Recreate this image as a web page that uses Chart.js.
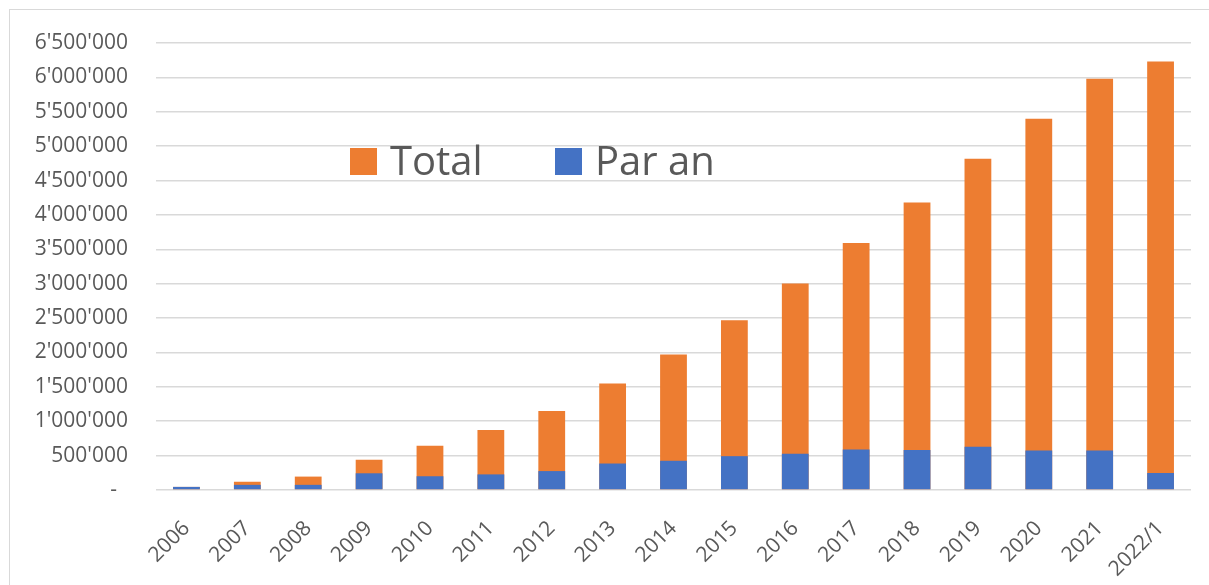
<!DOCTYPE html>
<html>
<head>
<meta charset="utf-8">
<script src="https://cdn.jsdelivr.net/npm/chart.js@4"></script>
<style>
  html, body { margin: 0; padding: 0; background: #fff; overflow: hidden; }
  #wrap { position: relative; width: 1209px; height: 585px; }
  #frame { position: absolute; left: 9px; top: 9px; width: 1220px; height: 600px; border: 1.5px solid #d9d9d9; }
  canvas { position: absolute; left: 0; top: 0; }
</style>
</head>
<body>
<div id="wrap">
  <div id="frame"></div>
  <canvas id="chart" width="1209" height="585"></canvas>
</div>
<script>
const categories = ['2006', '2007', '2008', '2009', '2010', '2011', '2012', '2013', '2014',
    '2015', '2016', '2017', '2018', '2019', '2020', '2021', '2022/1'];
const totalValues = [45000, 120000, 195000, 440000, 645000, 872000, 1150000, 1550000, 1972000,
    2470000, 3002000, 3592000, 4180000, 4818000, 5400000, 5980000, 6232000];
const perYearValues = [45000, 75000, 75000, 243000, 200000, 227000, 275000, 385000, 425000,
    492000, 527000, 590000, 580000, 630000, 575000, 575000, 247000];
const yMax = 6500000;
const yStep = 500000;

const textColor = '#595959';
const gridColor = '#d9d9d9';
const fontFamily = "'Open Sans', 'Noto Sans', sans-serif";

function formatTick(v) {
    if (v === 0) return '-  ';
    return String(v).replace(/\B(?=(\d{3})+(?!\d))/g, "'");
}

// legend drawn inside the plot, like the original
const innerLegend = {
    id: 'innerLegend',
    afterDraw(chart) {
        const ctx = chart.ctx;
        const items = chart.data.datasets.slice().reverse();
        const x0 = [350, 555];
        ctx.save();
        ctx.font = '40px ' + fontFamily;
        ctx.textBaseline = 'alphabetic';
        items.forEach((ds, i) => {
            ctx.fillStyle = ds.backgroundColor;
            ctx.fillRect(x0[i], 148, 27, 27);
            ctx.fillStyle = textColor;
            ctx.fillText(ds.label, x0[i] + 40, 175);
        });
        ctx.restore();
    }
};

new Chart(document.getElementById('chart'), {
    type: 'bar',
    data: {
        labels: categories,
        datasets: [
            {
                label: 'Par an',
                data: perYearValues,
                backgroundColor: '#4472C4',
                grouped: false,
                barPercentage: 0.44,
                categoryPercentage: 1
            },
            {
                label: 'Total',
                data: totalValues,
                backgroundColor: '#ED7D31',
                grouped: false,
                barPercentage: 0.44,
                categoryPercentage: 1
            }
        ]
    },
    options: {
        responsive: false,
        animation: false,
        devicePixelRatio: 1,
        layout: { padding: { top: 43, right: 18, left: 0, bottom: 0 } },
        plugins: {
            legend: { display: false },
            tooltip: { enabled: false }
        },
        scales: {
            x: {
                grid: { display: false },
                border: { display: false },
                ticks: {
                    color: textColor,
                    font: { family: fontFamily, size: 21 },
                    minRotation: 45,
                    maxRotation: 45,
                    padding: 18,
                    autoSkip: false
                },
                afterFit(scale) { scale.height = 95; }
            },
            y: {
                min: 0,
                max: yMax,
                grid: { color: gridColor, lineWidth: 1.5, drawTicks: false },
                border: { display: false },
                ticks: {
                    stepSize: yStep,
                    color: textColor,
                    font: { family: fontFamily, size: 21 },
                    padding: 28,
                    callback: formatTick
                },
                afterFit(scale) { scale.width = 156; }
            }
        }
    },
    plugins: [innerLegend]
});
</script>
</body>
</html>
